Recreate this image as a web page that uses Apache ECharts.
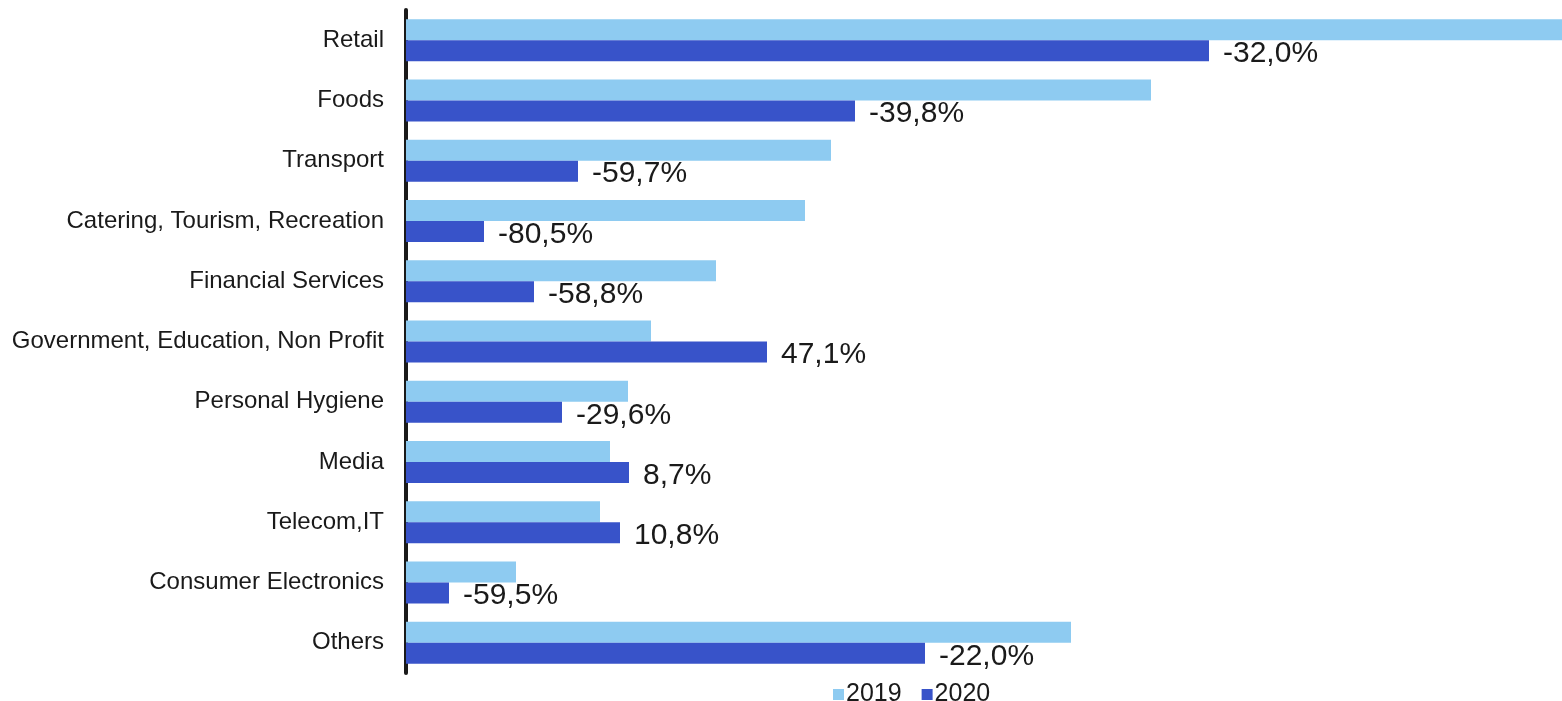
<!DOCTYPE html>
<html>
<head>
<meta charset="utf-8">
<script src="https://cdn.jsdelivr.net/npm/echarts@6/dist/echarts.min.js"></script>
<style>
html,body{margin:0;padding:0;background:#fff;}
#chart{width:1562px;height:701px;}
</style>
</head>
<body>
<div id="chart"></div>
<script>
const categories = ["Retail","Foods","Transport","Catering, Tourism, Recreation","Financial Services","Government, Education, Non Profit","Personal Hygiene","Media","Telecom,IT","Consumer Electronics","Others"];
const values2019 = [1181, 745, 425, 399, 310, 245, 222, 204, 194, 110, 665];
const values2020 = [803, 449, 172, 78, 128, 361, 156, 223, 214, 43, 519];
const changeLabels = ["-32,0%","-39,8%","-59,7%","-80,5%","-58,8%","47,1%","-29,6%","8,7%","10,8%","-59,5%","-22,0%"];
const seriesNames = ["2019","2020"];

const FONT = 'Arial, "Liberation Sans", sans-serif';
const chart = echarts.init(document.getElementById('chart'));
chart.setOption({
  animation: false,
  backgroundColor: '#ffffff',
  textStyle: {fontFamily: FONT},
  legend: {
    data: seriesNames,
    top: 677,
    left: 828,
    itemWidth: 11,
    itemHeight: 11,
    itemGap: 20,
    icon: 'rect',
    textStyle: {fontSize: 25, color: '#1a1a1a', fontFamily: FONT, padding: [0,0,0,-3]}
  },
  grid: {left: 406, right: 0, top: 10, bottom: 28, containLabel: false},
  xAxis: {
    type: 'value', min: 0, max: 1156,
    axisLine: {show: false}, axisTick: {show: false},
    axisLabel: {show: false}, splitLine: {show: false}
  },
  yAxis: {
    type: 'category', data: categories, inverse: true,
    axisLine: {show: true, lineStyle: {color: '#1a1a1a', width: 4}},
    axisTick: {show: false},
    axisLabel: {fontSize: 24, color: '#1a1a1a', margin: 22, fontFamily: FONT}
  },
  series: [
    {
      name: seriesNames[0], type: 'bar', data: values2019,
      barWidth: 21, barGap: '0%',
      itemStyle: {color: '#8ecbf1'},
      clip: true
    },
    {
      name: seriesNames[1], type: 'bar', data: values2020,
      barWidth: 21,
      itemStyle: {color: '#3853c9'},
      label: {
        show: true, position: 'right', distance: 14, offset: [0, 3],
        fontSize: 30, color: '#1a1a1a', fontFamily: FONT,
        formatter: p => changeLabels[p.dataIndex]
      }
    }
  ]
});
</script>
</body>
</html>
